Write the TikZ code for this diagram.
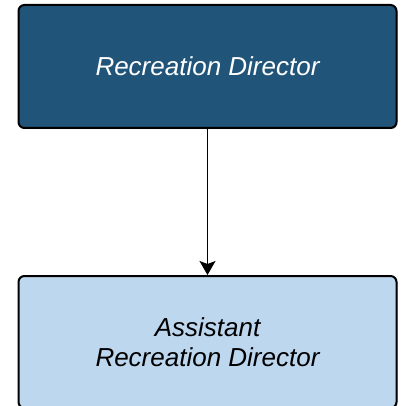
\documentclass[tikz,border=0pt]{standalone}
\usepackage{fontspec}
\setmainfont{Liberation Sans}
\usetikzlibrary{positioning,arrows.meta,shadows}

\definecolor{bossblue}{HTML}{215479}
\definecolor{aideblue}{HTML}{BDD7EE}

\tikzset{
  post/.style={draw=black, line width=2pt, rounded corners=6pt,
    minimum width=378pt, align=center, font=\fontsize{26}{30}\selectfont\itshape,
    drop shadow={shadow xshift=1.2pt, shadow yshift=-1.2pt, opacity=0.35, fill=gray}},
}

\begin{document}
\begin{tikzpicture}[x=1pt, y=1pt, node distance=146pt]

\useasboundingbox (0,0) rectangle (400,-406);

\node[post, fill=bossblue, text=white, minimum height=123pt] (director) at (207.5,-66.5) {Recreation Director};
\node[post, fill=aideblue, text=black, minimum height=132pt, below=of director] (assistant) {Assistant\\Recreation Director};

\draw[line width=1.3pt, -{Stealth[length=14pt, width=16pt, inset=3pt]}] (director) -- (assistant);

\end{tikzpicture}
\end{document}
